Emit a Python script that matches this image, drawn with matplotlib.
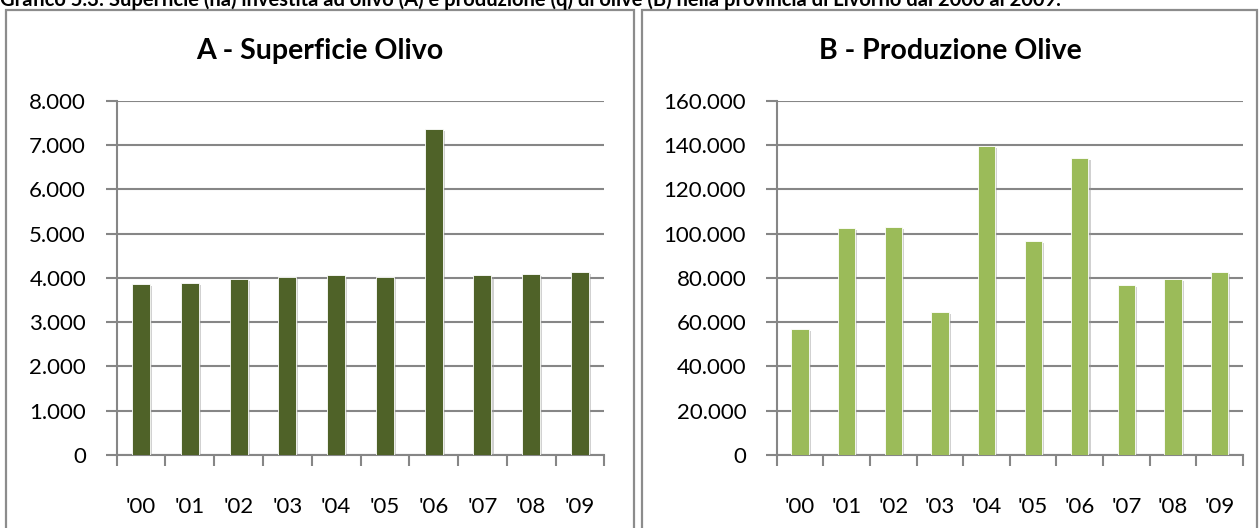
import matplotlib
matplotlib.use("Agg")
import matplotlib.pyplot as plt
import matplotlib.patheffects as pe
from matplotlib.patches import Rectangle
from matplotlib.ticker import FuncFormatter, MultipleLocator
import numpy as np

years = ["'00", "'01", "'02", "'03", "'04", "'05", "'06", "'07", "'08", "'09"]
superficie = [3870, 3895, 3980, 4015, 4060, 4015, 7360, 4060, 4090, 4140]
produzione = [57000, 102500, 103100, 64500, 139500, 96500, 134200, 76850, 79550, 82500]
title_main = ("Grafico 5.3: Superficie (ha) investita ad olivo (A) e produzione (q) "
              "di olive (B) nella provincia di Livorno dal 2000 al 2009.")
title_a = "A - Superficie Olivo"
title_b = "B - Produzione Olive"

plt.rcParams['font.family'] = ['Lato', 'DejaVu Sans']

W, H = 1260, 528
fig = plt.figure(figsize=(W / 100, H / 100), dpi=100)

grid_col = '#868686'

# panel borders
for x0, x1 in [(6, 634), (642, 1257)]:
    r = Rectangle((x0 / W, -0.1), (x1 - x0) / W, 1 - 10 / H + 0.1,
                  transform=fig.transFigure, fill=False, edgecolor='#8c8c8c',
                  linewidth=1.6, zorder=0)
    fig.add_artist(r)

fig.text(0.0, 1 - 6 / H, title_main, ha='left', va='baseline',
         fontsize=14.5, fontweight='bold', color='black')


def fmt_it(v, pos):
    s = f"{int(round(v)):,}".replace(",", ".")
    return s


def draw(ax_rect, values, color, ymax, step, title, title_x):
    ax = fig.add_axes(ax_rect)
    x = np.arange(len(values))
    bars = ax.bar(x, values, width=0.37, color=color, edgecolor='white',
                  linewidth=0.6, zorder=3)
    for b in bars:
        b.set_path_effects([pe.SimplePatchShadow(offset=(1.5, -1.5), shadow_rgbFace='#999999', alpha=0.45),
                            pe.Normal()])
    ax.set_xlim(-0.5, len(values) - 0.5)
    ax.set_ylim(0, ymax)
    ax.yaxis.set_major_locator(MultipleLocator(step))
    ax.yaxis.set_major_formatter(FuncFormatter(fmt_it))
    ax.yaxis.grid(True, color=grid_col, linewidth=1.5, zorder=1)
    ax.set_axisbelow(True)
    for s in ['top', 'right']:
        ax.spines[s].set_visible(False)
    for s in ['left', 'bottom']:
        ax.spines[s].set_color(grid_col)
        ax.spines[s].set_linewidth(1.5)
    ax.set_xticks(x)
    ax.set_xticklabels(years)
    ax.set_xticks(np.arange(-0.5, len(values)), minor=True)
    ax.tick_params(axis='x', which='major', length=0, pad=30, labelsize=16)
    ax.tick_params(axis='x', which='minor', length=8, width=1.5, color=grid_col, direction='out')
    ax.tick_params(axis='y', length=8, width=1.5, color=grid_col, pad=14, labelsize=16)
    fig.text(title_x, 1 - 51 / H, title, ha='center', va='center',
             fontsize=20.5, fontweight='bold')
    return ax


bottom = 1 - 455 / H
top = 1 - 100.7 / H
draw([116.6 / W, bottom, (604.4 - 116.6) / W, top - bottom], superficie, '#4F6228',
     8000, 1000, title_a, 320 / W)
draw([776.7 / W, bottom, (1243 - 776.7) / W, top - bottom], produzione, '#9BBB59',
     160000, 20000, title_b, 950 / W)

fig.savefig("out.png", dpi=100)
